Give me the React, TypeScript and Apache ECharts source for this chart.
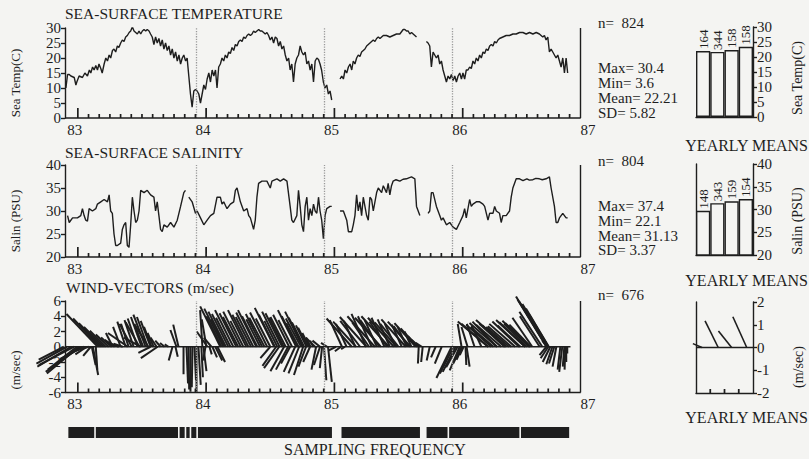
import React, { useEffect, useRef } from "react";
import * as echarts from "echarts";

const INK = "#1e1e1e";
const BG = "#f4f4f2";
const FONT = "'Liberation Serif', 'DejaVu Serif', 'Times New Roman', serif";

const X_MIN = 82.9;
const X_MAX = 87;
const AXIS_END = 86.92;
const yearLabels = [83, 84, 85, 86, 87];
const yearTicks = [83, 84, 85, 86];
const dottedMarks = [83.92, 84.92, 85.92];
const meanTicks = [84, 85, 86];

const seaTemp: [number, number | null][] = [
  [82.907, 10], [82.92, 14.5], [82.933, 14.5], [82.946, 14], [82.972, 13.5], [82.985, 11], [82.992, 12], [83.01, 14], [83.036, 13.5], [83.055, 15], [83.075, 14], [83.09, 16], [83.101, 15], [83.115, 17], [83.127, 16], [83.14, 17.5], [83.153, 16], [83.165, 18], [83.179, 16.5], [83.19, 15], [83.205, 18], [83.218, 20], [83.231, 19], [83.244, 21], [83.256, 20], [83.27, 22.5], [83.282, 23], [83.295, 22], [83.308, 24], [83.32, 23.5], [83.334, 25], [83.347, 26], [83.36, 25.5], [83.373, 27], [83.386, 27.5], [83.4, 28.5], [83.412, 29], [83.425, 30.4], [83.438, 29], [83.451, 28.5], [83.464, 28], [83.477, 29], [83.49, 28], [83.503, 29], [83.516, 29.5], [83.529, 29], [83.541, 29.5], [83.555, 29], [83.567, 28], [83.58, 27], [83.593, 24.5], [83.606, 27], [83.619, 25], [83.632, 26.5], [83.645, 24], [83.658, 26], [83.671, 23], [83.684, 25], [83.697, 22.5], [83.71, 24], [83.723, 21], [83.736, 23], [83.749, 20], [83.762, 22], [83.775, 19], [83.788, 21], [83.801, 18], [83.814, 20], [83.826, 21], [83.84, 19], [83.852, 20], [83.865, 14], [83.878, 8], [83.891, 3.6], [83.904, 9], [83.917, 9.5], [83.93, 9], [83.943, 8], [83.956, 5], [83.969, 8], [83.982, 11], [83.995, 9.5], [84.008, 13], [84.021, 15], [84.034, 12], [84.047, 16], [84.06, 14], [84.073, 16], [84.085, 10], [84.098, 17], [84.111, 18], [84.124, 20], [84.137, 19], [84.15, 21], [84.163, 20], [84.176, 22], [84.189, 21.5], [84.202, 23.5], [84.215, 22.5], [84.228, 24.5], [84.241, 24], [84.254, 25.5], [84.267, 26], [84.28, 25.5], [84.293, 27], [84.306, 26.5], [84.319, 27.5], [84.332, 28], [84.345, 27.5], [84.358, 28], [84.37, 29], [84.383, 28.5], [84.396, 29], [84.41, 29.5], [84.422, 29], [84.435, 29], [84.448, 28.5], [84.461, 28], [84.474, 28.5], [84.487, 27.5], [84.5, 26], [84.513, 27], [84.526, 25], [84.539, 27], [84.552, 26.5], [84.565, 24], [84.578, 25.5], [84.591, 23], [84.604, 24], [84.617, 21], [84.63, 19], [84.643, 20], [84.655, 16], [84.668, 18], [84.681, 12], [84.694, 18], [84.707, 20], [84.72, 21], [84.733, 24], [84.746, 22], [84.759, 21], [84.772, 22], [84.785, 18], [84.798, 19], [84.811, 16], [84.824, 18], [84.837, 12], [84.85, 19], [84.863, 20], [84.876, 19.5], [84.888, 18], [84.9, 16], [84.914, 12], [84.927, 10], [84.94, 11], [84.953, 8], [84.966, 9], [84.979, 6],
  [85.01, null],
  [85.044, 13], [85.057, 14], [85.07, 13], [85.083, 16], [85.096, 15], [85.109, 17], [85.122, 18], [85.135, 16], [85.147, 19], [85.16, 18], [85.173, 20], [85.186, 21], [85.199, 20.5], [85.212, 22], [85.225, 22.5], [85.238, 23], [85.251, 24], [85.264, 24.5], [85.277, 25], [85.29, 25.5], [85.303, 26], [85.316, 25.5], [85.329, 26.5], [85.342, 27], [85.355, 26.5], [85.368, 27], [85.381, 27.5], [85.406, 27.5], [85.432, 27], [85.458, 27.5], [85.484, 28], [85.51, 28], [85.536, 29.5], [85.549, 29.5], [85.562, 29], [85.575, 29], [85.588, 28], [85.601, 28.5], [85.614, 28], [85.627, 27.5], [85.64, 27],
  [85.68, null],
  [85.717, 25.5], [85.73, 25], [85.743, 24], [85.756, 17], [85.769, 22], [85.782, 21], [85.795, 20], [85.808, 21], [85.821, 18], [85.834, 19], [85.847, 16], [85.86, 14], [85.873, 12], [85.886, 14], [85.899, 13], [85.912, 14.5], [85.925, 12.5], [85.938, 14], [85.951, 12], [85.964, 14], [85.977, 15], [85.99, 13], [86.002, 15], [86.015, 13], [86.028, 16], [86.041, 16], [86.054, 17], [86.067, 16.5], [86.08, 19], [86.093, 18], [86.106, 20], [86.119, 19], [86.132, 21], [86.145, 20], [86.158, 22], [86.171, 21.5], [86.184, 23], [86.197, 22.5], [86.21, 24], [86.223, 24.5], [86.236, 24], [86.249, 25.5], [86.262, 25], [86.275, 26], [86.287, 26.5], [86.313, 27], [86.339, 27.5], [86.365, 27.5], [86.391, 28], [86.417, 28], [86.443, 28.5], [86.469, 28.5], [86.495, 28], [86.521, 28.5], [86.547, 28], [86.573, 28.5], [86.598, 28], [86.624, 27], [86.637, 27.5], [86.65, 26], [86.663, 27], [86.676, 22], [86.689, 23], [86.702, 22], [86.715, 21], [86.728, 20], [86.741, 21], [86.754, 19], [86.767, 17], [86.78, 20], [86.793, 15], [86.806, 20], [86.818, 15],
];

const seaSalinity: [number, number | null][] = [
  [82.92, 29], [82.933, 27.5], [82.959, 28.5], [82.997, 28.5], [83.023, 29], [83.036, 30.5], [83.049, 29], [83.062, 28], [83.075, 27.8], [83.088, 30.5], [83.114, 30], [83.14, 30.5], [83.153, 31.5], [83.179, 32], [83.205, 32.5], [83.231, 32], [83.244, 33.5], [83.256, 30], [83.269, 29.5], [83.282, 25], [83.295, 22.5], [83.308, 22.5], [83.334, 23], [83.347, 26], [83.36, 27], [83.373, 27.5], [83.386, 22.5], [83.399, 22.1], [83.412, 27], [83.425, 33], [83.438, 30], [83.451, 27.5], [83.464, 28], [83.477, 30], [83.49, 34.5], [83.516, 34], [83.541, 34.5], [83.567, 33.5], [83.593, 33], [83.606, 30], [83.619, 32], [83.632, 29], [83.645, 26], [83.658, 25.5], [83.671, 27], [83.697, 26.5], [83.723, 27.5], [83.749, 26.5], [83.775, 28], [83.801, 31], [83.826, 34], [83.839, 34.5],
  [83.85, null],
  [83.865, 33], [83.891, 32], [83.917, 29.5], [83.93, 30], [83.956, 28.5], [83.982, 27], [84.008, 28], [84.034, 29], [84.06, 29.5], [84.085, 33], [84.111, 33], [84.124, 31.5], [84.137, 32], [84.163, 30.5], [84.189, 31.5], [84.215, 32], [84.228, 34.5], [84.241, 35], [84.254, 33.5], [84.267, 32], [84.293, 30], [84.319, 30.5], [84.332, 29], [84.345, 28.5], [84.37, 26], [84.383, 28], [84.396, 33], [84.409, 36], [84.435, 36.5], [84.474, 36.5], [84.5, 35], [84.513, 36.5], [84.552, 37], [84.578, 36.5], [84.604, 37], [84.63, 36.5], [84.655, 31], [84.668, 28], [84.681, 27.5], [84.707, 29], [84.72, 34.5], [84.733, 31], [84.746, 27], [84.759, 25.5], [84.772, 31], [84.785, 33], [84.798, 28], [84.811, 30.5], [84.824, 29], [84.837, 31.5], [84.85, 30], [84.863, 29.5], [84.876, 33], [84.888, 30], [84.901, 28], [84.914, 24], [84.927, 29], [84.94, 30.5], [84.966, 31], [84.979, 31],
  [85.01, null],
  [85.044, 30], [85.07, 30], [85.096, 28], [85.109, 25.5], [85.135, 25.5], [85.147, 27], [85.16, 29], [85.173, 33.5], [85.186, 30], [85.199, 32], [85.212, 29], [85.225, 33], [85.251, 29], [85.264, 28], [85.277, 33], [85.29, 32.5], [85.303, 30], [85.329, 34], [85.342, 35], [85.368, 34], [85.381, 35.5], [85.406, 34], [85.419, 36], [85.432, 33.5], [85.445, 35.5], [85.458, 36.5], [85.48, 36.8], [85.51, 36.5], [85.535, 36.9], [85.562, 37], [85.58, 37.2], [85.601, 37.4], [85.627, 37], [85.64, 31], [85.666, 29],
  [85.7, null],
  [85.73, 29.5], [85.743, 30], [85.756, 34], [85.769, 34], [85.795, 31], [85.821, 29], [85.834, 28], [85.847, 28.5], [85.873, 27], [85.899, 27.5], [85.925, 26.5], [85.951, 26], [85.977, 27.5], [86.002, 29], [86.015, 30.5], [86.028, 28.5], [86.054, 32.5], [86.067, 31], [86.08, 31.5], [86.106, 32], [86.132, 32], [86.158, 31.5], [86.171, 31], [86.197, 28], [86.21, 29.5], [86.236, 29.5], [86.249, 31], [86.262, 30], [86.287, 29.5], [86.3, 27.5], [86.313, 29], [86.339, 29], [86.365, 30], [86.378, 33], [86.391, 35], [86.417, 37], [86.443, 37], [86.47, 36.6], [86.5, 37], [86.52, 36.7], [86.547, 36.8], [86.57, 37.1], [86.598, 37], [86.62, 36.8], [86.65, 37], [86.676, 37.4], [86.689, 35], [86.715, 31], [86.728, 27.5], [86.741, 27.5], [86.754, 28.5], [86.78, 29.5], [86.806, 28.5], [86.818, 28.5],
];

// [time (yr), u (m/s), v (m/s)]
const windVectors: [number, number, number][] = [
  [82.891, -3.3, -1.7], [82.915, -4.0, -2.2], [82.946, -4.4, -2.6], [82.969, -4.6, -2.4], [82.992, -3.8, -3.0], [83.008, -4.2, -3.5], [83.023, -4.6, -3.3], [83.047, -3.1, -1.6], [83.07, -1.5, -1.0], [83.085, -2.0, -0.6], [83.101, -1.0, -1.2], [83.109, 0.5, -2.4], [83.117, 0.7, -3.7], [83.14, 0.2, -3.0],
  [83.155, -4.1, 4.3], [83.171, -3.5, 3.7], [83.186, -3.0, 3.1], [83.202, -2.6, 2.6], [83.218, -2.1, 2.1], [83.241, -1.7, 1.6], [83.264, -1.4, 1.2], [83.287, -1.3, 0.9], [83.319, -1.5, 0.6], [83.35, -1.2, 0.4],
  [83.272, -0.9, 1.8], [83.334, -1.0, 2.6], [83.373, -1.1, 3.3], [83.396, -1.0, 3.0], [83.435, -1.2, 3.5], [83.466, -1.3, 3.7], [83.497, -1.4, 3.9], [83.528, -1.6, 4.2], [83.544, -1.4, 3.9], [83.567, -1.3, 3.4], [83.575, -1.0, 2.6], [83.591, -0.8, 1.8], [83.614, -0.8, 1.2], [83.645, -0.7, 0.8], [83.676, -0.6, 0.5], [83.707, -0.5, 0.3], [83.389, -2.6, 1.8], [83.49, -2.2, 1.2], [83.622, -2.2, -1.5], [83.567, -1.6, -0.8],
  [83.42, -1.6, 3.0], [83.48, -1.8, 3.2], [83.51, -1.2, 3.0], [83.55, -1.8, 2.9],
  [83.785, -0.7, 2.9], [83.769, -0.8, 2.2], [83.738, -0.5, -1.8], [83.761, 0.3, -1.3],
  [83.824, 0.0, -3.6], [83.847, 0.2, -4.8], [83.862, 0.1, -5.6], [83.878, 0.0, -5.9], [83.894, -0.1, -5.3], [83.909, 0.2, -4.4], [83.925, 0.0, -6.0], [83.94, 0.3, -5.0], [83.963, 0.2, -4.0], [83.979, 0.4, -3.2], [83.995, -0.3, -1.8],
  [83.971, -0.3, 4.8], [84.002, -0.6, 3.6], [84.01, -1.4, 2.0], [84.041, -1.0, 1.2],
  [84.111, -2.65, 5.3], [84.134, -2.5, 5.0], [84.154, -2.3, 4.6], [84.173, -2.15, 4.3], [84.212, -2.4, 4.8], [84.235, -2.2, 4.4], [84.27, -2.3, 4.6], [84.313, -2.4, 4.8], [84.329, -2.1, 4.2], [84.368, -2.25, 4.5], [84.391, -2.4, 4.8], [84.399, -2.0, 4.0], [84.437, -2.15, 4.3], [84.476, -2.25, 4.5], [84.531, -2.55, 5.1], [84.536, -2.1, 4.2], [84.573, -2.3, 4.6], [84.593, -2.2, 4.4], [84.605, -1.9, 3.8], [84.647, -2.1, 4.2], [84.702, -2.4, 4.8], [84.708, -2.0, 4.0], [84.752, -2.3, 4.6], [84.757, -1.9, 3.8], [84.764, -1.6, 3.2], [84.783, -1.4, 2.8], [84.791, -1.25, 2.5], [84.803, -0.9, 1.8], [84.814, -0.6, 1.2], [84.834, -0.4, 0.8],
  [84.12, -2.0, 4.0], [84.145, -1.8, 3.6], [84.19, -1.9, 3.8], [84.25, -2.0, 3.9], [84.29, -1.7, 3.4], [84.35, -2.0, 3.9], [84.42, -1.8, 3.6], [84.455, -2.0, 3.8], [84.5, -1.9, 3.7], [84.555, -1.7, 3.4], [84.62, -2.0, 3.9], [84.67, -1.8, 3.5], [84.72, -1.6, 3.1], [84.74, -2.0, 3.7],
  [84.072, 0.9, -1.8], [84.049, 0.6, -1.4], [84.088, 1.0, -2.0], [84.026, 0.3, -1.0],
  [84.5, -1.3, -1.5], [84.546, -1.8, -2.5], [84.57, -2.0, -2.8], [84.608, -1.8, -3.2], [84.639, -1.6, -3.0], [84.655, -1.2, -2.2], [84.694, -1.5, -3.3], [84.725, -1.4, -3.5], [84.756, -1.2, -3.7], [84.779, -1.0, -2.6], [84.81, -0.9, -2.0], [84.857, -0.6, -3.0], [84.888, -0.8, -2.4], [84.919, 0.3, -4.4], [84.95, 0.5, -4.6], [84.904, -0.3, -2.8],
  [84.849, -1.2, 1.2], [84.888, -1.0, 0.8], [84.943, -0.8, 0.5], [85.012, -1.0, -0.5], [85.051, -0.8, -0.6], [85.082, -0.5, -0.3],
  [85.135, -3.3, 3.7], [85.059, -1.6, 3.5], [85.168, -3.0, 3.3], [85.095, -1.4, 3.0], [85.25, -3.5, 3.9], [85.163, -1.5, 3.4], [85.315, -3.6, 4.0], [85.246, -1.9, 4.3], [85.362, -3.4, 3.8], [85.29, -1.8, 4.0], [85.424, -3.6, 4.0], [85.331, -1.6, 3.5], [85.463, -3.4, 3.8], [85.39, -1.7, 3.8], [85.486, -2.9, 3.2], [85.432, -1.6, 3.6], [85.556, -3.2, 3.6], [85.476, -1.4, 3.0], [85.594, -3.0, 3.3], [85.525, -1.3, 2.9], [85.634, -2.8, 3.1], [85.564, -1.2, 2.6], [85.647, -2.2, 2.4], [85.6, -0.9, 2.0], [85.65, -1.3, 1.4], [85.662, -1.0, 0.9], [85.681, -0.8, 0.5],
  [85.2, -2.6, 3.4], [85.27, -2.2, 3.2], [85.35, -2.5, 3.5], [85.41, -2.3, 3.3], [85.5, -2.4, 3.0], [85.58, -2.0, 2.7],
  [85.657, -0.1, -2.2], [85.688, -0.2, -2.0], [85.743, -0.4, -1.8], [85.789, -0.6, -1.4], [85.836, -0.9, -2.2], [85.914, -2.0, -4.1], [85.929, -1.8, -3.5], [85.945, -1.7, -3.3], [85.96, -1.5, -2.7], [85.976, -1.3, -3.1], [85.991, -1.1, -2.2], [85.999, -0.8, -1.7], [86.007, -0.5, -1.1], [86.022, 0.1, -2.4], [86.03, 0.4, -2.6],
  [85.991, -0.5, 3.0], [86.038, -0.8, 2.6], [86.092, -1.0, 3.0], [86.146, -1.3, 2.8],
  [86.199, -4.0, 3.3], [86.198, -3.5, 3.0], [86.223, -3.3, 2.9], [86.267, -3.6, 3.1], [86.266, -3.2, 3.3], [86.341, -4.0, 3.5], [86.326, -3.3, 3.0], [86.332, -3.0, 2.8], [86.361, -3.0, 2.6], [86.409, -3.4, 3.0], [86.439, -3.5, 3.3], [86.486, -3.8, 3.5], [86.487, -3.4, 3.2], [86.523, -3.6, 3.4], [86.522, -3.2, 3.1], [86.53, -2.8, 2.9], [86.542, -2.6, 3.8], [86.659, -4.1, 6.6], [86.653, -3.8, 6.2], [86.655, -3.6, 5.9], [86.667, -3.4, 5.6], [86.671, -3.0, 5.0], [86.668, -2.5, 4.2], [86.664, -2.0, 3.2], [86.66, -1.5, 2.4], [86.657, -1.0, 1.6], [86.656, -0.6, 0.8],
  [86.24, -3.0, 2.6], [86.3, -3.3, 2.9], [86.38, -3.1, 2.7], [86.45, -3.0, 2.8], [86.5, -3.0, 3.0], [86.6, -2.6, 4.0], [86.62, -3.0, 4.6],
  [86.652, -0.9, -1.1], [86.667, -1.0, -1.5], [86.683, -1.0, -2.0], [86.699, -0.8, -2.3], [86.714, -0.7, -2.2], [86.73, -0.5, -2.6], [86.761, -0.35, -3.0], [86.776, -0.4, -3.3], [86.792, -0.2, -2.6], [86.8, -0.1, -3.0], [86.807, 0, -2.0], [86.815, 0, -0.9],
];

const windBaseline: [number, number][] = [[82.9, 0], [86.84, 0]];

const samplingSegments: [number, number][] = [
  [82.92, 83.134], [83.134, 83.787], [83.787, 83.839], [83.839, 83.878], [83.878, 83.93], [83.93, 84.987],
  [85.049, 85.673], [85.712, 85.888], [85.888, 86.448], [86.448, 86.836],
];

const meanYears = ["1983", "1984", "1985", "1986"];
const tempYearlyMeans = [22.0, 21.7, 22.3, 23.4];
const tempYearlyCounts = [164, 344, 158, 158];
const salYearlyMeans = [29.7, 31.4, 31.8, 32.3];
const salYearlyCounts = [148, 343, 159, 154];
// [mean time, u, v]
const windYearlyMeans: [number, number, number][] = [
  [83.42, -0.4, 0.17], [84.56, -0.58, 1.17], [85.5, -0.58, 0.73], [86.56, -0.61, 1.35],
];
const windMeansBaseline: [number, number][] = [[83, 0], [87, 0]];

const tempStats = ["Max= 30.4", "Min= 3.6", "Mean= 22.21", "SD= 5.82"];
const salStats = ["Max= 37.4", "Min= 22.1", "Mean= 31.13", "SD= 3.37"];
const tempN = "n=  824";
const salN = "n=  804";
const windN = "n=  676";

function monthTicks(): number[] {
  const out: number[] = [];
  for (let y = 83; y <= 86; y++) {
    for (let m = 1; m < 12; m++) {
      const v = y + m / 12;
      if (v <= 86.84) out.push(+v.toFixed(4));
    }
  }
  return out;
}

function yearAxis(gridIndex: number) {
  return {
    type: "value", gridIndex, position: "bottom", min: X_MIN, max: X_MAX,
    axisLine: { show: false, onZero: false },
    splitLine: { show: false },
    axisTick: { show: false },
    axisLabel: {
      show: true, customValues: yearLabels, formatter: (v: number) => String(Math.round(v)),
      color: INK, fontFamily: FONT, fontSize: 15, margin: 4, padding: [0, 6, 0, 0],
    },
  };
}

function leftY(gridIndex: number, min: number, max: number, interval: number) {
  return {
    type: "value", gridIndex, position: "left", min, max, interval,
    axisLine: { show: true, onZero: false, lineStyle: { color: INK, width: 1.4 } },
    axisTick: { show: true, length: 4, lineStyle: { color: INK, width: 1.4 } },
    axisLabel: { color: INK, fontFamily: FONT, fontSize: 15, margin: 4 },
    splitLine: { show: false },
  };
}

function rightY(gridIndex: number, min: number, max: number, interval: number) {
  return {
    type: "value", gridIndex, position: "right", min, max, interval,
    axisLine: { show: true, onZero: false, lineStyle: { color: INK, width: 1.4 } },
    axisTick: { show: true, length: 4, lineStyle: { color: INK, width: 1.4 } },
    axisLabel: { color: INK, fontFamily: FONT, fontSize: 15, margin: 4 },
    splitLine: { show: false },
  };
}

function leftLine(gridIndex: number, min: number, max: number) {
  return {
    type: "value", gridIndex, position: "left", min, max,
    axisLine: { show: true, onZero: false, lineStyle: { color: INK, width: 1.4 } },
    axisTick: { show: false }, axisLabel: { show: false }, splitLine: { show: false },
  };
}

function panelMarks() {
  return {
    symbol: ["none", "none"], silent: true, animation: false,
    label: { show: false }, emphasis: { disabled: true },
    data: [
      ...dottedMarks.map((x) => ({ xAxis: x, lineStyle: { type: "dotted", color: "#9a9a9a", width: 1.3 } })),
      { xAxis: AXIS_END, lineStyle: { type: "solid", color: INK, width: 1.4 } },
    ],
  };
}

// bottom-axis tick marks as a custom series: [t, anchor inside the y range, major(1)/minor(0)]
function tickSeries(xAxisIndex: number, yAxisIndex: number, majors: number[], minors: number[],
  bottom: number, anchor: number, majorLen: number, minorLen: number) {
  const data = [
    ...majors.map((t) => [t, anchor, 1]),
    ...minors.map((t) => [t, anchor, 0]),
  ];
  return {
    type: "custom", xAxisIndex, yAxisIndex, silent: true, clip: false, z: 10,
    data,
    encode: { x: 0, y: 1 },
    renderItem: (_p: any, api: any) => {
      const p = api.coord([api.value(0), bottom]);
      const len = api.value(2) === 1 ? majorLen : minorLen;
      return {
        type: "polyline",
        shape: { points: [[p[0], p[1]], [p[0] + 0.01, p[1] - len]] },
        style: { stroke: INK, lineWidth: 1.7, fill: null },
      };
    },
  };
}

// stick (vector) drawn as a two-point polyline so purely vertical sticks render too
const stickRender = (width: number) => (_params: any, api: any) => {
  const t = api.value(0);
  const u = api.value(1);
  const v = api.value(2);
  const base = api.coord([t, 0]);
  const tipY = api.coord([t, v])[1];
  const unit = api.size([0, 1])[1];
  return {
    type: "polyline",
    shape: { points: [[base[0], base[1]], [base[0] + u * unit + 0.01, tipY]] },
    style: { stroke: INK, lineWidth: width, fill: null },
  };
};

function txt(text: string, x: number, y: number, size: number, align = "left", rotation = 0) {
  return {
    type: "text", x, y, rotation, silent: true,
    style: {
      text, fill: INK, font: `${size}px ${FONT}`,
      align, verticalAlign: "middle", textAlign: align, textVerticalAlign: "middle",
    },
  };
}

export default function App() {
  const ref = useRef<HTMLDivElement>(null);
  useEffect(() => {
    if (!ref.current) return;
    const chart = echarts.init(ref.current, undefined, { renderer: "svg" });
    const months = monthTicks();

    const textGraphics: any[] = [
      txt("SEA-SURFACE TEMPERATURE", 65, 13, 15.5),
      txt("SEA-SURFACE SALINITY", 65, 152.5, 15.5),
      txt("WIND-VECTORS (m/sec)", 66, 287.5, 15.5),
      txt("SAMPLING FREQUENCY", 375, 449, 16, "center"),
      txt("YEARLY MEANS", 808, 145, 16, "right"),
      txt("YEARLY MEANS", 808, 280, 16, "right"),
      txt("YEARLY MEANS", 808, 417, 16, "right"),
      txt(tempN, 598, 23, 15),
      ...tempStats.map((s, i) => txt(s, 598, 68 + i * 15, 15)),
      txt(salN, 598, 161, 15),
      ...salStats.map((s, i) => txt(s, 598, 206 + i * 14.8, 15)),
      txt(windN, 598, 295, 15),
      txt("Sea Temp(C)", 15, 83, 13, "center", Math.PI / 2),
      txt("Salin (PSU)", 15, 221, 13, "center", Math.PI / 2),
      txt("(m/sec)", 15, 370, 13, "center", Math.PI / 2),
      txt("Sea Temp(C)", 797, 78, 14, "center", Math.PI / 2),
      txt("Salin (PSU)", 797, 221, 14, "center", Math.PI / 2),
      txt("(m/sec)", 798, 367, 14, "center", Math.PI / 2),
    ];

    const barLabel = (counts: number[]) => ({
      show: true, position: "top", rotate: 90, align: "left", verticalAlign: "middle", distance: 2,
      formatter: (p: any) => String(counts[p.dataIndex]),
      color: INK, fontFamily: FONT, fontSize: 13,
    });

    const option: any = {
      animation: false,
      backgroundColor: BG,
      textStyle: { fontFamily: FONT },
      grid: [
        { left: 65, top: 28, width: 526, height: 90 },
        { left: 65, top: 165, width: 526, height: 92 },
        { left: 65, top: 301, width: 526, height: 91.5 },
        { left: 65, top: 427, width: 526, height: 11 },
        { left: 696, top: 27, width: 57, height: 90 },
        { left: 696, top: 164, width: 57, height: 91 },
        { left: 696, top: 302, width: 57, height: 91 },
      ],
      xAxis: [
        yearAxis(0),
        yearAxis(1),
        yearAxis(2),
        { type: "value", gridIndex: 3, min: X_MIN, max: X_MAX, show: false },
        {
          type: "category", gridIndex: 4, data: meanYears,
          axisLine: { show: true, onZero: false, lineStyle: { color: INK, width: 1.4 } },
          axisTick: { show: false }, axisLabel: { show: false },
        },
        {
          type: "category", gridIndex: 5, data: meanYears,
          axisLine: { show: true, onZero: false, lineStyle: { color: INK, width: 1.4 } },
          axisTick: { show: false }, axisLabel: { show: false },
        },
        {
          type: "value", gridIndex: 6, min: 83, max: 87, interval: 1,
          axisLine: { show: true, onZero: false, lineStyle: { color: INK, width: 1.4 } },
          axisTick: { show: false },
          axisLabel: { show: false }, splitLine: { show: false },
        },
      ],
      yAxis: [
        leftY(0, 0, 30, 5),
        leftY(1, 20, 40, 5),
        leftY(2, -6, 6, 2),
        { type: "value", gridIndex: 3, min: 0, max: 1, show: false },
        rightY(4, 0, 30, 5),
        rightY(5, 20, 40, 5),
        leftLine(5, 20, 40),
        rightY(6, -2, 2, 1),
        leftLine(6, -2, 2),
      ],
      graphic: textGraphics,
      series: [
        {
          type: "line", xAxisIndex: 0, yAxisIndex: 0, data: seaTemp, showSymbol: false,
          connectNulls: false, silent: true,
          lineStyle: { color: INK, width: 1.4 },
          markLine: panelMarks(),
        },
        tickSeries(0, 0, yearTicks, months, 0, 15, 10, 4),
        {
          type: "line", xAxisIndex: 1, yAxisIndex: 1, data: seaSalinity, showSymbol: false,
          connectNulls: false, silent: true,
          lineStyle: { color: INK, width: 1.4 },
          markLine: panelMarks(),
        },
        tickSeries(1, 1, yearTicks, months, 20, 30, 10, 4),
        {
          type: "line", xAxisIndex: 2, yAxisIndex: 2, data: windBaseline, showSymbol: false, silent: true,
          lineStyle: { color: INK, width: 1.5 },
          markLine: panelMarks(),
        },
        {
          type: "custom", xAxisIndex: 2, yAxisIndex: 2, data: windVectors, silent: true,
          encode: { x: 0, y: 2 }, clip: false,
          renderItem: stickRender(2),
        },
        tickSeries(2, 2, yearTicks, months, -6, 0, 10, 4),
        {
          type: "custom", xAxisIndex: 3, yAxisIndex: 3, data: samplingSegments, silent: true,
          encode: { x: [0, 1] },
          renderItem: (_p: any, api: any) => {
            const s = api.value(0);
            const e = api.value(1);
            const p1 = api.coord([s, 1]);
            const p2 = api.coord([e, 0]);
            return {
              type: "rect",
              shape: { x: p1[0] + 0.8, y: p1[1], width: p2[0] - p1[0] - 1.6, height: p2[1] - p1[1] },
              style: { fill: INK },
            };
          },
        },
        {
          type: "bar", xAxisIndex: 4, yAxisIndex: 4, data: tempYearlyMeans, barCategoryGap: "0%",
          silent: true,
          itemStyle: { color: BG, borderColor: INK, borderWidth: 1.4 },
          label: barLabel(tempYearlyCounts),
        },
        {
          type: "bar", xAxisIndex: 5, yAxisIndex: 5, data: salYearlyMeans, barCategoryGap: "0%",
          silent: true,
          itemStyle: { color: BG, borderColor: INK, borderWidth: 1.4 },
          label: barLabel(salYearlyCounts),
        },
        {
          type: "line", xAxisIndex: 6, yAxisIndex: 7, data: windMeansBaseline, showSymbol: false, silent: true,
          lineStyle: { color: INK, width: 1.4 },
        },
        tickSeries(6, 7, meanTicks, [], -2, 0, 4, 4),
        {
          type: "custom", xAxisIndex: 6, yAxisIndex: 7, data: windYearlyMeans, silent: true,
          encode: { x: 0, y: 2 }, clip: false,
          renderItem: stickRender(1.6),
        },
      ],
    };
    chart.setOption(option);

    // bottom axis lines of the three panels, placed through each panel's own scales
    const axisGraphics: any[] = [];
    const panels: [number, number, number][] = [[0, 0, 0], [1, 1, 20], [2, 2, -6]];
    panels.forEach(([xi, yi, bottom]) => {
      const finder = { xAxisIndex: xi, yAxisIndex: yi };
      const a = chart.convertToPixel(finder, [X_MIN, bottom]) as number[];
      const b = chart.convertToPixel(finder, [AXIS_END, bottom]) as number[];
      axisGraphics.push({
        type: "polyline", silent: true, z: 50,
        shape: { points: [[a[0], a[1]], [b[0], b[1]]] },
        style: { stroke: INK, lineWidth: 1.4, fill: null },
      });
    });
    chart.setOption({ graphic: [...textGraphics, ...axisGraphics] });

    return () => chart.dispose();
  }, []);
  return (
    <div
      ref={ref}
      style={{ position: "fixed", left: 0, top: 0, width: 809, height: 459, background: BG }}
    />
  );
}
